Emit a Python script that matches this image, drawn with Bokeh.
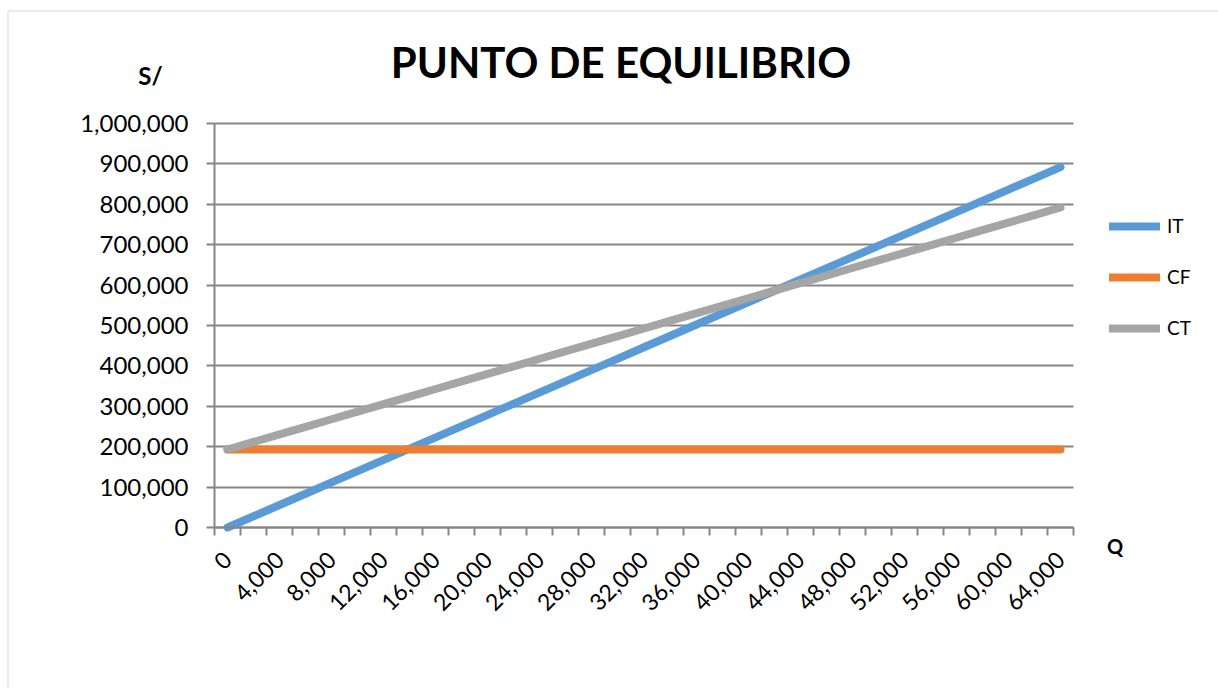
from bokeh.plotting import figure
from bokeh.models import (ColumnDataSource, FixedTicker, NumeralTickFormatter, Range1d,
                          Label, Legend, LegendItem, BoxAnnotation)
from bokeh.embed import file_html
from bokeh.resources import INLINE
import math

# ---- data ----
Q = [0, 2000, 4000, 6000, 8000, 10000, 12000, 14000, 16000, 18000, 20000, 22000,
     24000, 26000, 28000, 30000, 32000, 34000, 36000, 38000, 40000, 42000, 44000,
     46000, 48000, 50000, 52000, 54000, 56000, 58000, 60000, 62000, 64000]
IT = [0, 27880, 55760, 83640, 111520, 139400, 167280, 195160, 223040, 250920, 278800,
      306680, 334560, 362440, 390320, 418200, 446080, 473960, 501840, 529720, 557600,
      585480, 613360, 641240, 669120, 697000, 724880, 752760, 780640, 808520, 836400,
      864280, 892160]
CF = [193000] * 33
CT = [193000, 211720, 230440, 249160, 267880, 286600, 305320, 324040, 342760, 361480,
      380200, 398920, 417640, 436360, 455080, 473800, 492520, 511240, 529960, 548680,
      567400, 586120, 604840, 623560, 642280, 661000, 679720, 698440, 717160, 735880,
      754600, 773320, 792040]
x_label_ticks = [0, 4000, 8000, 12000, 16000, 20000, 24000, 28000, 32000, 36000, 40000,
                 44000, 48000, 52000, 56000, 60000, 64000]
x_boundaries = [-1000 + 2000 * i for i in range(34)]
y_ticks = [0, 100000, 200000, 300000, 400000, 500000, 600000, 700000, 800000, 900000, 1000000]
series_names = ["IT", "CF", "CT"]
series_colors = ["#5B9BD5", "#ED7D31", "#A5A5A5"]

FONT = "Lato"
GRAY = "#868686"

# ---- layout (pixels) ----
W, H = 1218, 688
PLOT_L, PLOT_R, PLOT_T, PLOT_B = 214, 1073, 123, 527   # visible axes area
X0, X1 = x_boundaries[0], x_boundaries[-1]
Y0, Y1 = y_ticks[0], y_ticks[-1]
kx = (X1 - X0) / (PLOT_R - PLOT_L)
ky = (Y1 - Y0) / (PLOT_B - PLOT_T)
# the frame covers the whole canvas; axes are drawn at fixed locations inside it
x_rng = Range1d(X0 - PLOT_L * kx, X0 + (W - PLOT_L) * kx)
y_rng = Range1d(Y0 - (H - PLOT_B) * ky, Y0 + PLOT_B * ky)

p = figure(width=W, height=H, output_backend="svg", toolbar_location=None,
           x_range=x_rng, y_range=y_rng,
           min_border_left=0, min_border_right=0, min_border_top=0, min_border_bottom=0)
p.title.visible = False
p.outline_line_color = None
p.background_fill_color = "white"
p.border_fill_color = "white"

# chart-area border
p.add_layout(BoxAnnotation(left=7.5, right=W + 10, top=H - 10.5, bottom=-10,
                           left_units="screen", right_units="screen",
                           top_units="screen", bottom_units="screen",
                           fill_alpha=0, line_color="#A6A6A6", line_width=1.5))

# axes
xa = p.xaxis[0]
xa.fixed_location = Y0
xa.bounds = (X0, X1)
xa.ticker = FixedTicker(ticks=x_label_ticks, minor_ticks=x_boundaries)
xa.formatter = NumeralTickFormatter(format="0,0")
xa.major_tick_line_color = None
xa.minor_tick_line_color = GRAY
xa.minor_tick_out = 8
xa.minor_tick_in = 0
xa.minor_tick_line_width = 2
xa.axis_line_color = GRAY
xa.axis_line_width = 2
xa.major_label_orientation = math.pi / 4
xa.major_label_text_font = FONT
xa.major_label_text_font_size = "23px"
xa.major_label_text_color = "black"
xa.major_label_standoff = 20

ya = p.yaxis[0]
ya.fixed_location = X0
ya.bounds = (Y0, Y1)
ya.ticker = FixedTicker(ticks=y_ticks)
ya.formatter = NumeralTickFormatter(format="0,0")
ya.minor_tick_line_color = None
ya.major_tick_line_color = GRAY
ya.major_tick_line_width = 2
ya.major_tick_out = 8
ya.major_tick_in = 0
ya.axis_line_color = GRAY
ya.axis_line_width = 2
ya.major_label_text_font = FONT
ya.major_label_text_font_size = "24px"
ya.major_label_text_color = "black"
ya.major_label_standoff = 18

p.xgrid.grid_line_color = None
p.ygrid.grid_line_color = GRAY
p.ygrid.grid_line_width = 2
p.ygrid.ticker = FixedTicker(ticks=y_ticks)
try:
    p.ygrid.cross_bounds = (X0, X1)
except Exception:
    p.ygrid.grid_line_color = None
    p.segment(x0=[X0] * len(y_ticks), x1=[X1] * len(y_ticks), y0=y_ticks, y1=y_ticks,
              line_color=GRAY, line_width=2)

src = ColumnDataSource(dict(q=Q, it=IT, cf=CF, ct=CT))
renderers = []
for col, name, color in zip(["it", "cf", "ct"], series_names, series_colors):
    r = p.line("q", col, source=src, line_color=color, line_width=8, line_cap="round",
               line_join="round")
    renderers.append(r)

# texts (screen coordinates relative to the frame's bottom-left corner = canvas)
def lbl(text, px, py, size):
    return Label(x=px, y=H - py, x_units="screen", y_units="screen",
                 text=text, text_font=FONT, text_font_style="bold", text_font_size=size,
                 text_align="center", text_baseline="middle", text_color="black")

p.add_layout(lbl("PUNTO DE EQUILIBRIO", 620.5, 61, "42px"))
p.add_layout(lbl("S/", 150, 75, "24px"))
p.add_layout(lbl("Q", 1114.5, 545, "20px"))

legend = Legend(items=[LegendItem(label=n, renderers=[r]) for n, r in zip(series_names, renderers)],
                location=(1109, H - 339), glyph_width=51, glyph_height=22,
                label_height=22, label_standoff=7, spacing=28, padding=0, margin=0,
                label_text_font=FONT, label_text_font_size="19px", label_text_color="black",
                border_line_color=None, background_fill_alpha=0)
p.add_layout(legend, "center")

open("out.html", "w").write(file_html(p, INLINE))
